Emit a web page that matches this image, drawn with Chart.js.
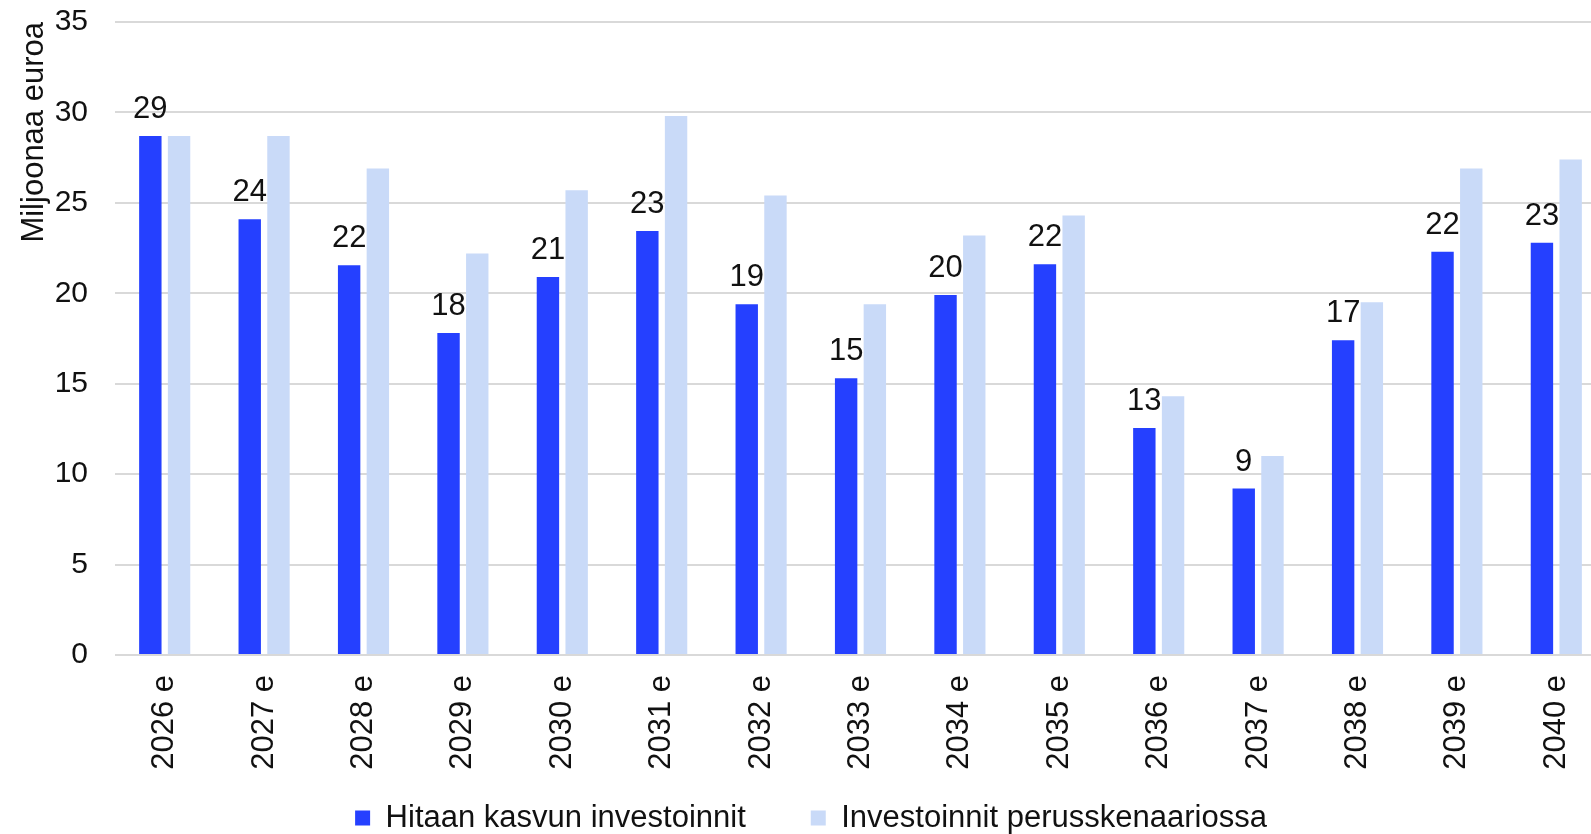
<!DOCTYPE html>
<html><head><meta charset="utf-8">
<script src="https://cdn.jsdelivr.net/npm/chart.js@4"></script>
<style>html,body{margin:0;padding:0;overflow:hidden;background:#fff}#wrap{width:1606px;height:834px;position:relative}</style>
</head><body><div id="wrap"><canvas id="c"></canvas></div>
<script>
const categories = ['2026 e','2027 e','2028 e','2029 e','2030 e','2031 e','2032 e','2033 e','2034 e','2035 e','2036 e','2037 e','2038 e','2039 e','2040 e'];
const slowGrowth = [28.7, 24.1, 21.55, 17.8, 20.9, 23.45, 19.4, 15.3, 19.9, 21.6, 12.55, 9.2, 17.4, 22.3, 22.8];
const baseScenario = [28.7, 28.7, 26.9, 22.2, 25.7, 29.8, 25.4, 19.4, 23.2, 24.3, 14.3, 11.0, 19.5, 26.9, 27.4];
const seriesNames = ['Hitaan kasvun investoinnit', 'Investoinnit perusskenaariossa'];
const yMin = 0, yMax = 35, yStep = 5;
const yTitle = 'Miljoonaa euroa';

const FONT = "'Liberation Sans', Arial, sans-serif";

const labelPlugin = {
  id: 'barLabels',
  afterDatasetsDraw(chart) {
    const ctx = chart.ctx;
    const meta = chart.getDatasetMeta(0);
    ctx.save();
    ctx.font = '31px ' + FONT;
    ctx.fillStyle = '#111';
    ctx.textAlign = 'center';
    ctx.textBaseline = 'alphabetic';
    meta.data.forEach((bar, i) => {
      ctx.fillText(String(Math.round(slowGrowth[i])), bar.x, bar.y - 18);
    });
    ctx.restore();
  }
};

new Chart(document.getElementById('c'), {
  type: 'bar',
  data: {
    labels: categories,
    datasets: [
      { label: seriesNames[0], data: slowGrowth, backgroundColor: '#2540FF', categoryPercentage: 0.578, barPercentage: 0.78 },
      { label: seriesNames[1], data: baseScenario, backgroundColor: '#C9DAF8', categoryPercentage: 0.578, barPercentage: 0.78 }
    ]
  },
  options: {
    responsive: true,
    maintainAspectRatio: false,
    animation: false,
    layout: { padding: { left: 16, right: 0, top: 22, bottom: -9.5 } },
    plugins: {
      tooltip: { enabled: false },
      legend: {
        position: 'bottom',
        labels: {
          font: { family: FONT, size: 31 },
          color: '#111',
          boxWidth: 15,
          boxHeight: 15,
          padding: 65
        }
      }
    },
    scales: {
      x: {
        grid: { display: false },
        border: { display: false },
        ticks: { font: { family: FONT, size: 31 }, color: '#111', maxRotation: 90, minRotation: 90, padding: 12 },
        afterFit(scale) {
          scale.height = 82.5;
          scale._computeLabelArea = function () { return undefined; };
        }
      },
      y: {
        min: yMin, max: yMax,
        grid: { color: '#d9d9d9', lineWidth: 2, drawTicks: false },
        border: { display: false },
        ticks: { stepSize: yStep, font: { family: FONT, size: 30 }, color: '#111', padding: 27 },
        title: { display: true, text: yTitle, align: 'end', font: { family: FONT, size: 31 }, color: '#111', padding: { top: 0, bottom: 0 } },
        afterFit(scale) {
          scale.width = 99;
          scale.paddingTop = 0;
          scale.paddingBottom = 0;
        }
      }
    }
  },
  plugins: [labelPlugin]
});
</script></body></html>
